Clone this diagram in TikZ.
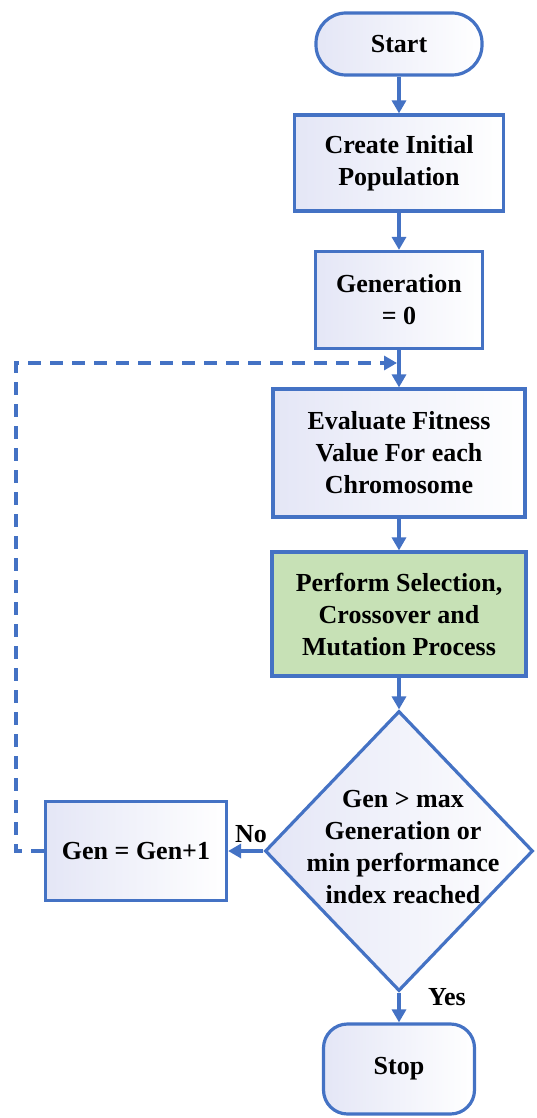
\documentclass[tikz,border=0pt]{standalone}
\usepackage{fontspec}
\setmainfont{Liberation Serif}
\usetikzlibrary{arrows.meta,shapes.geometric}
\definecolor{edgeblue}{RGB}{68,114,196}
\definecolor{shadeblue}{RGB}{228,230,246}
\definecolor{stepgreen}{RGB}{199,225,182}
\begin{document}
\begin{tikzpicture}[x=1pt,y=-1pt,
  every node/.style={font=\fontsize{26}{32}\selectfont\bfseries, text=black},
  box/.style={draw=edgeblue, line width=3.2pt, left color=shadeblue, right color=white,
              align=center, inner sep=0pt},
  greenbox/.style={draw=edgeblue, line width=3.2pt, fill=stepgreen, align=center, inner sep=0pt},
  decision/.style={diamond, draw=edgeblue, line width=3.2pt, left color=shadeblue, right color=white,
                   inner sep=0pt},
  flow/.style={draw=edgeblue, line width=3.2pt, -{Triangle[length=13pt,width=14pt]}},
  loopback/.style={flow, dash pattern=on 13pt off 9pt}
]
\useasboundingbox (0,0) rectangle (536,1118);

% main column
\node[box, rounded corners=30pt, minimum width=166pt, minimum height=62pt] (start) at (399,44) {Start};
\node[box, minimum width=209pt, minimum height=96pt] (init) at (399,163) {Create Initial\\Population};
\node[box, minimum width=167pt, minimum height=97pt] (gen0) at (399,300) {Generation\\= 0};
\node[box, minimum width=252pt, minimum height=128pt] (eval) at (399,453) {Evaluate Fitness\\Value For each\\Chromosome};
\node[greenbox, minimum width=254pt, minimum height=124pt] (ops) at (399,614) {Perform Selection,\\Crossover and\\Mutation Process};
\node[decision, minimum width=268pt, minimum height=280pt] (test) at (399,851) {};
\node[align=center, inner sep=0pt] (testtxt) at (403,847) {Gen > max\\Generation or\\min performance\\index reached};
\node[box, rounded corners=24pt, minimum width=151pt, minimum height=90pt] (stop) at (399,1069) {Stop};

% increment box on the left
\node[box, minimum width=181pt, minimum height=99pt] (inc) at (136,851) {Gen = Gen+1};

% connectors
\draw[flow] (start) -- (init);
\draw[flow] (init) -- (gen0);
\draw[flow] (gen0) -- (eval);
\draw[flow] (eval) -- (ops);
\draw[flow] (ops) -- (test);
\draw[flow] (test.west) -- (inc.east);
\draw[flow] (test.south) -- (stop.north);

% dashed loop back to the evaluation step
\coordinate (back) at (16,363);
\coordinate (merge) at (397,363);
\draw[loopback] (inc.west) -| (back) -- (merge);

% branch labels
\node (no) at (251,834) {No};
\node (yes) at (447,997) {Yes};
\end{tikzpicture}
\end{document}
